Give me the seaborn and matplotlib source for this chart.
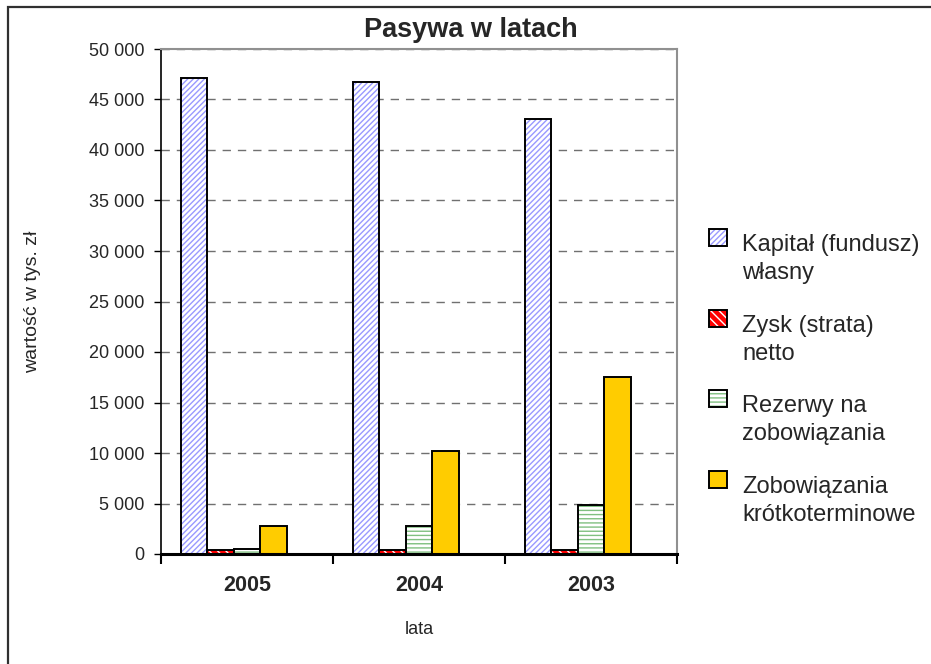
import matplotlib
matplotlib.use("Agg")
import matplotlib.pyplot as plt
import pandas as pd
import seaborn as sns
from matplotlib.colors import to_rgba
from matplotlib.legend_handler import HandlerPatch
from matplotlib.patches import Patch, Rectangle
from matplotlib.ticker import FuncFormatter, MultipleLocator, FixedLocator

# --- data -------------------------------------------------------------
years = ["2005", "2004", "2003"]
series = [
    "Kapitał (fundusz)\nwłasny",
    "Zysk (strata)\nnetto",
    "Rezerwy na\nzobowiązania",
    "Zobowiązania\nkrótkoterminowe",
]
kapital = [47100, 46700, 43100]
zysk = [400, 400, 400]
rezerwy = [450, 2750, 4850]
zobowiazania = [2750, 10200, 17550]

title = "Pasywa w latach"
xlabel = "lata"
ylabel = "wartość w tys. zł"

# --- styles per series: face, hatch, hatch colour ----------------------
styles = [
    ("white", "//////", "#9999FF"),
    ("#FF0000", "\\\\\\\\", "white"),
    ("white", "----", "#80C080"),
    ("#FFCC00", "", "black"),
]

rows = []
for name, vals in zip(series, [kapital, zysk, rezerwy, zobowiazania]):
    for y, v in zip(years, vals):
        rows.append({"rok": y, "seria": name, "wartosc": v})
df = pd.DataFrame(rows)

sns.set_theme(style="white")
plt.rcParams["font.family"] = ["Liberation Sans", "DejaVu Sans"]
plt.rcParams["hatch.linewidth"] = 1.0

W, H = 931, 664
fig = plt.figure(figsize=(W / 100, H / 100), dpi=100)
ax = fig.add_axes([161 / W, 1 - 554 / H, (677 - 161) / W, (554 - 49) / H])

# a fifth (empty) slot keeps the group layout of the original workbook
spare = " "
hue_order = series + [spare]
palette = {s: st[0] for s, st in zip(series, styles)}
palette[spare] = "white"

sns.barplot(
    data=df, x="rok", y="wartosc", hue="seria", order=years,
    hue_order=hue_order, palette=palette, width=0.77, gap=0,
    legend=False, ax=ax, saturation=1, errorbar=None,
)

containers = [c for c in ax.containers if len(c) > 0]
for cont, (face, hatch, hcol) in zip(containers, styles):
    for p in cont:
        p.set_facecolor(face)
        p.set_edgecolor("black")
        p.set_linewidth(1.4)
        if hatch:
            p.set_hatch(hatch)
            p._hatch_color = to_rgba(hcol)

# axes
ax.set_ylim(0, 50000)
ax.yaxis.set_major_locator(MultipleLocator(5000))
ax.yaxis.set_major_formatter(
    FuncFormatter(lambda v, _: f"{int(v):,}".replace(",", " "))
)
ax.yaxis.grid(True, linestyle=(0, (6, 5)), color="#707070", linewidth=1.0)
ax.set_axisbelow(True)
ax.tick_params(axis="y", direction="out", length=5, width=1, color="black",
               labelsize=13, pad=7, left=True)

ax.set_xlim(-0.5, 2.5)
ax.xaxis.set_major_locator(FixedLocator([-0.5, 0.5, 1.5, 2.5]))
ax.xaxis.set_minor_locator(FixedLocator([0, 1, 2]))
ax.set_xticklabels([], minor=False)
ax.set_xticklabels(years, minor=True, fontweight="bold", fontsize=15.5)
ax.tick_params(axis="x", which="major", direction="out", length=7, width=1.5,
               color="black", bottom=True)
ax.tick_params(axis="x", which="minor", length=0, pad=15)

ax.set_xlabel(xlabel, fontsize=13)
ax.set_ylabel(ylabel, fontsize=14)
ax.xaxis.set_label_coords(0.5, -(630 - 554) / 505)
ax.xaxis.label.set_va("center")
ax.yaxis.set_label_coords(-(161 - 33) / 516, 0.5)
ax.yaxis.label.set_va("center")

for side in ("top", "right"):
    ax.spines[side].set_color("#909090")
    ax.spines[side].set_linewidth(1.5)
for side in ("left", "bottom"):
    ax.spines[side].set_color("black")
ax.spines["left"].set_linewidth(1.2)
ax.spines["bottom"].set_linewidth(2.2)

fig.text(471 / W, 1 - 30 / H, title, ha="center", va="center",
         fontsize=19.5, fontweight="bold")


# legend: swatch sits beside the first line of each two-line label
def top_swatch(legend, orig_handle, xdescent, ydescent, width, height, fontsize):
    return Rectangle((-xdescent, -ydescent + 0.92 * fontsize), width, height)


handles = []
for face, hatch, hcol in styles:
    h = Patch(facecolor=face, edgecolor="black", hatch=hatch, linewidth=1.4)
    h._hatch_color = to_rgba(hcol)
    handles.append(h)
leg = fig.legend(
    handles, series, loc="upper left",
    bbox_to_anchor=(709 / W, 1 - 234 / H), frameon=False,
    fontsize=17, handlelength=0.75, handleheight=0.75, handletextpad=0.65,
    labelspacing=1.3, borderaxespad=0, borderpad=0,
    handler_map={Patch: HandlerPatch(patch_func=top_swatch)},
)
for t in leg.get_texts():
    t.set_linespacing(1.35)

# outer chart-area frame
fig.patches.append(Rectangle((8 / W, -0.1), 1.1, 1 - 7 / H + 0.1,
                             transform=fig.transFigure, fill=False,
                             edgecolor="#303030", linewidth=1.6))

fig.savefig("out.png", dpi=100)
